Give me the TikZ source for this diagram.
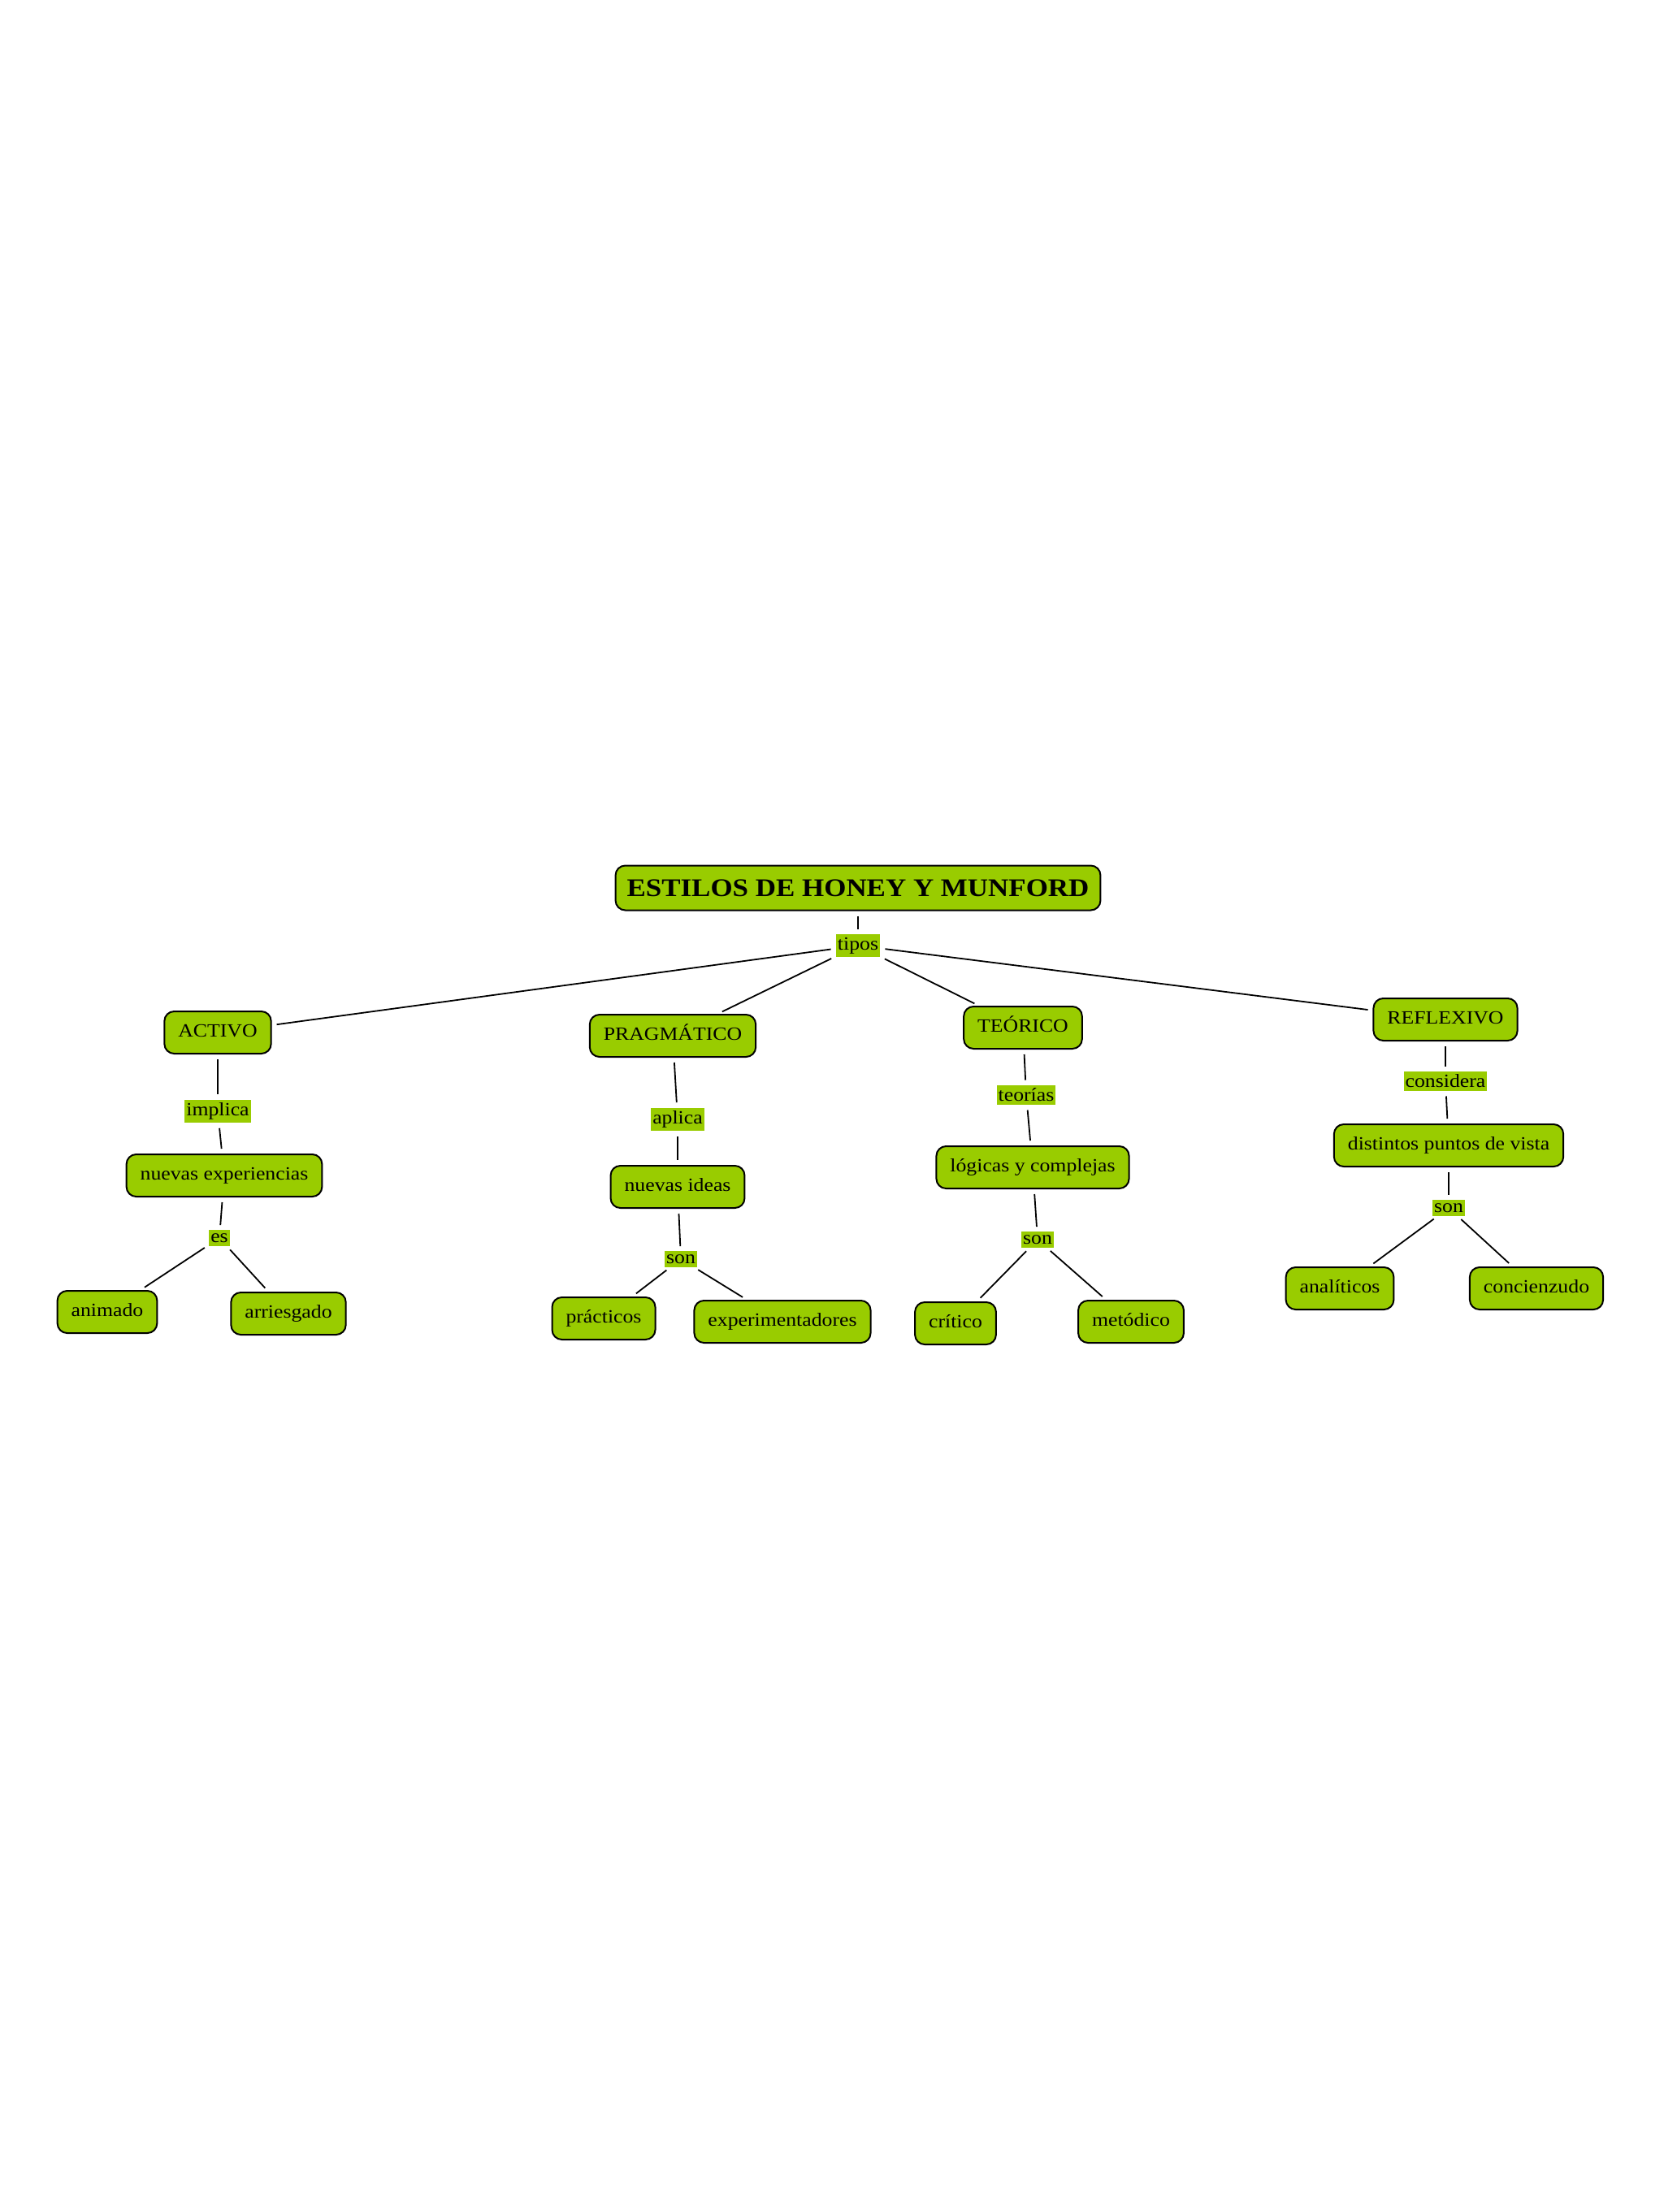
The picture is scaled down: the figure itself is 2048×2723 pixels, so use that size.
\documentclass[tikz,border=0pt]{standalone}
\usepackage{fontspec}
\setmainfont[FakeStretch=1.12]{Liberation Serif}
\definecolor{cmgreen}{RGB}{153,204,0}
\tikzset{
  concept/.style={draw=black, line width=1pt, fill=cmgreen, rounded corners=6pt,
    inner xsep=8.5pt, inner ysep=0pt, minimum height=26pt,
    font=\fontsize{11.5}{13}\selectfont, text height=8.2pt, text depth=2.6pt},
  titlebox/.style={concept, minimum height=27.5pt, inner xsep=7pt,
    font=\fontsize{15.6}{18}\selectfont\bfseries, text height=10.8pt, text depth=0pt},
  linklabel/.style={fill=cmgreen, inner xsep=1pt, inner ysep=2pt,
    font=\fontsize{11.5}{13}\selectfont},
  conn/.style={line width=0.9pt, shorten <=3pt, shorten >=3pt},
}
\begin{document}
\begin{tikzpicture}[x=0.5pt,y=-0.5pt]
\fill[white] (0,0) rectangle (2048,2723);
\useasboundingbox (0,0) rectangle (2048,2723);

\node[titlebox] (title) at (1056,1093) {ESTILOS DE HONEY Y MUNFORD};
\node[linklabel] (tipos) at (1056,1164) {tipos};

% ACTIVO
\node[concept] (activo) at (268,1271) {ACTIVO};
\node[linklabel] (implica) at (268,1368) {implica};
\node[concept] (nexp) at (276,1447) {nuevas experiencias};
\node[linklabel] (es) at (270,1524) {es};
\node[concept] (animado) at (132,1615) {animado};
\node[concept] (arriesgado) at (355,1617) {arriesgado};

% PRAGMATICO
\node[concept] (prag) at (828,1275) {PRAGMÁTICO};
\node[linklabel] (aplica) at (834,1378) {aplica};
\node[concept] (nideas) at (834,1461) {nuevas ideas};
\node[linklabel] (sonA) at (838,1550) {son};
\node[concept] (practicos) at (743,1623) {prácticos};
\node[concept] (experim) at (963,1627) {experimentadores};

% TEORICO
\node[concept] (teor) at (1259,1265) {TEÓRICO};
\node[linklabel] (teorias) at (1263,1348) {teorías};
\node[concept] (logicas) at (1271,1437) {lógicas y complejas};
\node[linklabel] (sonB) at (1277,1526) {son};
\node[concept] (critico) at (1176,1629) {crítico};
\node[concept] (metodico) at (1392,1627) {metódico};

% REFLEXIVO
\node[concept] (refl) at (1779,1255) {REFLEXIVO};
\node[linklabel] (considera) at (1779,1331) {considera};
\node[concept] (distintos) at (1783,1410) {distintos puntos de vista};
\node[linklabel] (sonC) at (1783,1487) {son};
\node[concept] (analiticos) at (1649,1586) {analíticos};
\node[concept] (concienzudo) at (1891,1586) {concienzudo};

% connectors
\draw[conn] (title) -- (tipos);
\draw[conn] (tipos) -- (activo);
\draw[conn] (tipos) -- (prag);
\draw[conn] (tipos) -- (teor);
\draw[conn] (tipos) -- (refl);

\draw[conn] (activo) -- (implica);
\draw[conn] (implica) -- (nexp);
\draw[conn] (nexp) -- (es);
\draw[conn] (es) -- (animado);
\draw[conn] (es) -- (arriesgado);

\draw[conn] (prag) -- (aplica);
\draw[conn] (aplica) -- (nideas);
\draw[conn] (nideas) -- (sonA);
\draw[conn] (sonA) -- (practicos);
\draw[conn] (sonA) -- (experim);

\draw[conn] (teor) -- (teorias);
\draw[conn] (teorias) -- (logicas);
\draw[conn] (logicas) -- (sonB);
\draw[conn] (sonB) -- (critico);
\draw[conn] (sonB) -- (metodico);

\draw[conn] (refl) -- (considera);
\draw[conn] (considera) -- (distintos);
\draw[conn] (distintos) -- (sonC);
\draw[conn] (sonC) -- (analiticos);
\draw[conn] (sonC) -- (concienzudo);
\end{tikzpicture}
\end{document}
